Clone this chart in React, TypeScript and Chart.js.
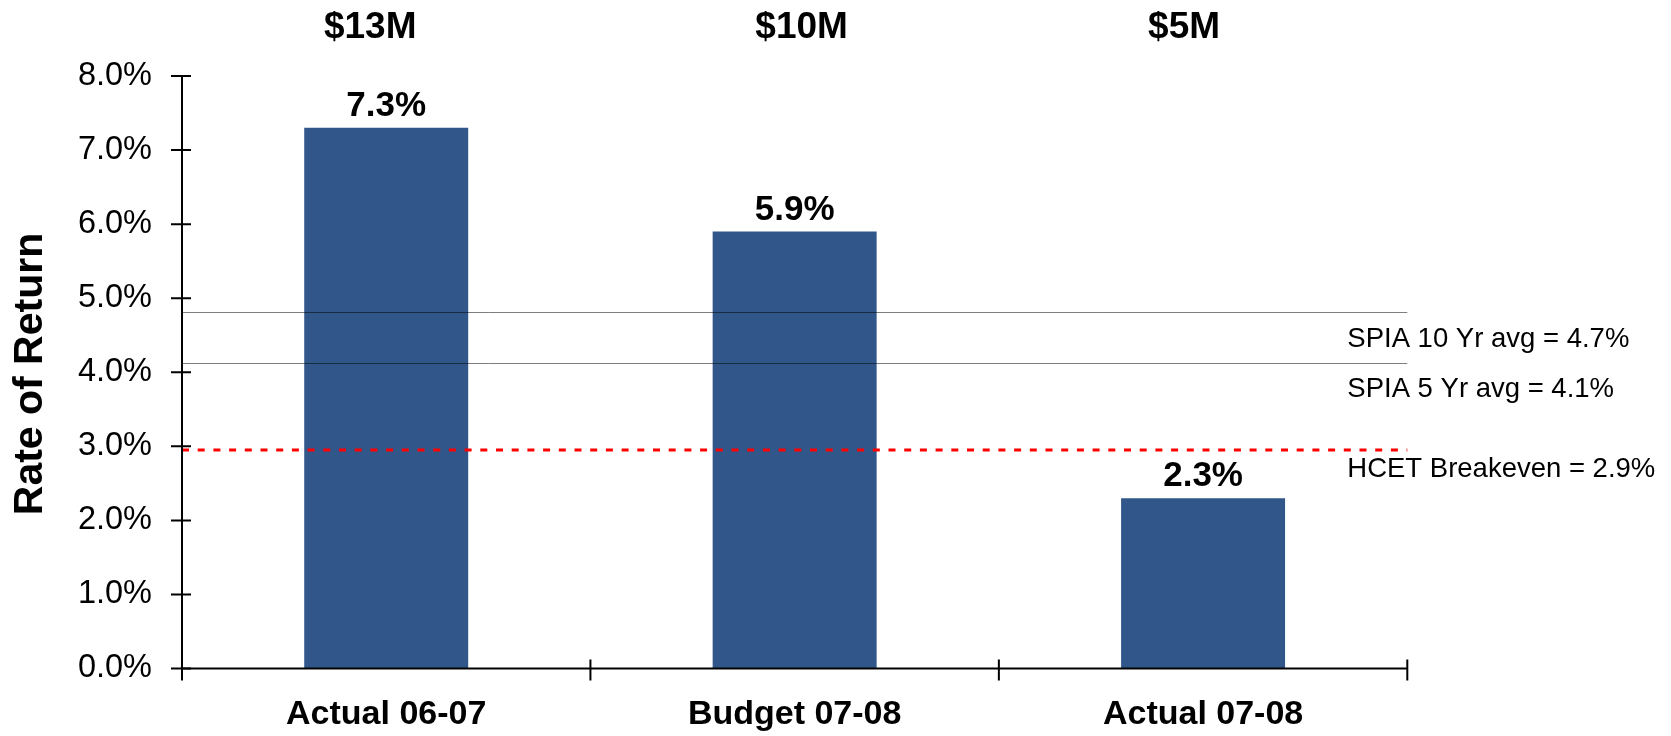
import React, { useEffect, useRef } from "react";
import { Chart, registerables } from "chart.js";

Chart.register(...registerables);

const categories = ["Actual 06-07", "Budget 07-08", "Actual 07-08"];
const returns = [7.3, 5.9, 2.3];
const fundingLabels = ["$13M", "$10M", "$5M"];
const refLineValues = [4.82, 4.13, 2.95];
const refLineLabels = [
  "SPIA 10 Yr avg = 4.7%",
  "SPIA 5 Yr avg = 4.1%",
  "HCET Breakeven = 2.9%",
];
const yMin = 0;
const yMax = 8;
const yStep = 1;

const FONT = '"Liberation Sans", Arial, Helvetica, sans-serif';
const BAR_COLOR = "#31568A";

const fundingOffsets = [-16, 7, -19];
const refLabelOffsets = [35, 34, 27];

const overlayPlugin = {
  id: "overlay",
  afterDatasetsDraw(chart: any) {
    const ctx = chart.ctx;
    const x = chart.scales.x;
    const y = chart.scales.y;
    const area = chart.chartArea;
    ctx.save();

    // reference lines
    refLineValues.forEach((v, i) => {
      const py = Math.round(y.getPixelForValue(v));
      ctx.beginPath();
      if (i < 2) {
        ctx.strokeStyle = "rgba(0,0,0,0.5)";
        ctx.lineWidth = 1;
        ctx.setLineDash([]);
        ctx.moveTo(area.left, py + 0.5);
        ctx.lineTo(area.right, py + 0.5);
      } else {
        ctx.strokeStyle = "#FF0000";
        ctx.lineWidth = 3;
        ctx.setLineDash([7, 8.7]);
        ctx.moveTo(area.left, py);
        ctx.lineTo(area.right, py);
      }
      ctx.stroke();
      ctx.setLineDash([]);
      ctx.fillStyle = "#000";
      ctx.font = `27.5px ${FONT}`;
      ctx.textAlign = "left";
      ctx.textBaseline = "alphabetic";
      ctx.fillText(refLineLabels[i], area.right - 60, py + refLabelOffsets[i]);
    });

    // axes
    ctx.strokeStyle = "#000";
    ctx.lineWidth = 2;
    ctx.beginPath();
    ctx.moveTo(area.left, area.top);
    ctx.lineTo(area.left, area.bottom);
    ctx.moveTo(area.left, area.bottom);
    ctx.lineTo(area.right, area.bottom);
    ctx.stroke();

    // y ticks
    ctx.beginPath();
    y.ticks.forEach((t: any) => {
      const py = y.getPixelForValue(t.value);
      ctx.moveTo(area.left - 11, py);
      ctx.lineTo(area.left + 9, py);
    });
    // x category boundary ticks
    const n = categories.length;
    const half = (x.getPixelForValue(1) - x.getPixelForValue(0)) / 2;
    for (let i = 0; i <= n; i++) {
      const px = x.getPixelForValue(0) - half + i * 2 * half;
      ctx.moveTo(px, area.bottom - 9);
      ctx.lineTo(px, area.bottom + 12);
    }
    ctx.stroke();

    // value labels & funding labels
    const meta = chart.getDatasetMeta(0);
    ctx.fillStyle = "#000";
    ctx.textAlign = "center";
    ctx.textBaseline = "alphabetic";
    meta.data.forEach((bar: any, i: number) => {
      ctx.font = `bold 35px ${FONT}`;
      ctx.fillText(returns[i].toFixed(1) + "%", bar.x, bar.y - 12);
      ctx.font = `bold 37px ${FONT}`;
      ctx.fillText(fundingLabels[i], bar.x + fundingOffsets[i], 38);
    });

    // y axis title
    ctx.save();
    ctx.translate(42, 374);
    ctx.rotate(-Math.PI / 2);
    ctx.font = `bold 41px ${FONT}`;
    ctx.textAlign = "center";
    ctx.textBaseline = "alphabetic";
    ctx.fillText("Rate of Return", 0, 0);
    ctx.restore();

    ctx.restore();
  },
};

export default function App() {
  const ref = useRef<HTMLCanvasElement | null>(null);

  useEffect(() => {
    if (!ref.current) return;
    const chart = new Chart(ref.current, {
      type: "bar",
      data: {
        labels: categories,
        datasets: [
          {
            data: returns,
            backgroundColor: BAR_COLOR,
            borderWidth: 0,
            barPercentage: 0.4015,
            categoryPercentage: 1,
          },
        ],
      },
      options: {
        responsive: false,
        animation: false,
        layout: { padding: { left: 0, top: 76, right: 263.7, bottom: 0 } },
        plugins: {
          legend: { display: false },
          tooltip: { enabled: false },
          title: { display: false },
        },
        scales: {
          x: {
            grid: { display: false, drawTicks: false },
            border: { display: false },
            ticks: {
              color: "#000",
              padding: 26,
              font: { family: FONT, size: 34, weight: "bold" },
              maxRotation: 0,
            },
            afterFit: (s: any) => {
              s.height = 67.5;
            },
          },
          y: {
            min: yMin,
            max: yMax,
            grid: { display: false, drawTicks: false },
            border: { display: false },
            ticks: {
              stepSize: yStep,
              color: "#000",
              padding: 30,
              font: { family: FONT, size: 32.5 },
              callback: (v: any) => Number(v).toFixed(1) + "%",
            },
            afterFit: (s: any) => {
              s.width = 182;
            },
          },
        },
      },
      plugins: [overlayPlugin],
    });
    return () => chart.destroy();
  }, []);

  return (
    <div
      style={{
        position: "fixed",
        left: 0,
        top: 0,
        width: 1671,
        height: 736,
        background: "#fff",
      }}
    >
      <canvas ref={ref} width={1671} height={736} />
    </div>
  );
}
